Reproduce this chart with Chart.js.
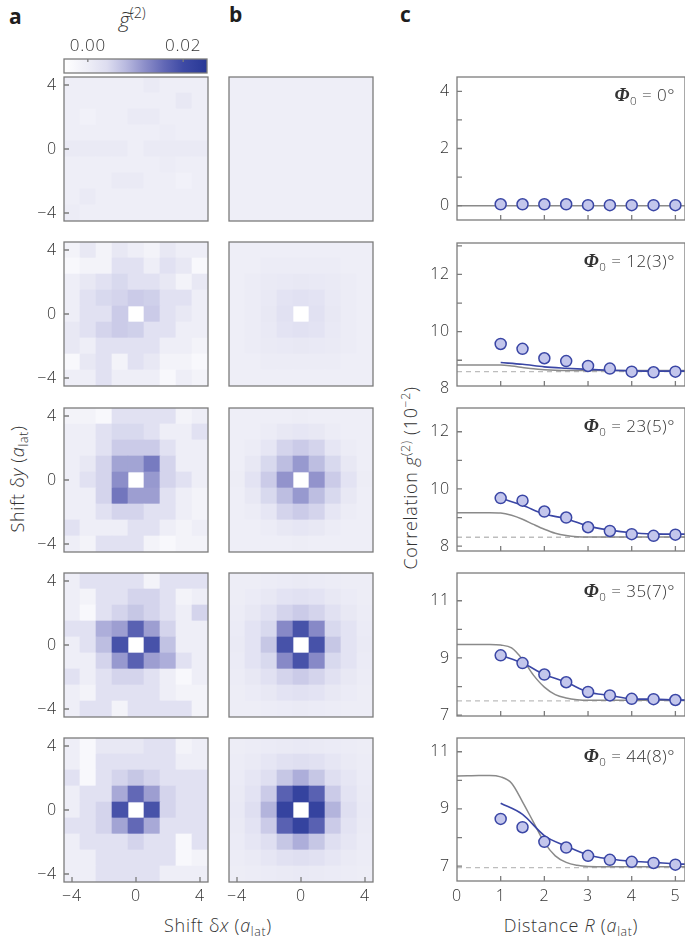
<!DOCTYPE html>
<html>
<head>
<meta charset="utf-8">
<script src="https://cdn.jsdelivr.net/npm/chart.js@4.4.1/dist/chart.umd.min.js"></script>
<style>
  html, body { margin: 0; padding: 0; background: #fff; overflow: hidden; }
  #fig { position: relative; width: 685px; height: 944px; overflow: hidden;
         font-family: 'Open Sans', 'DejaVu Sans', sans-serif; font-weight: 300; color: #333; }
  #fig canvas { position: absolute; }
  .txt { position: absolute; white-space: nowrap; line-height: 1; }
  .panel { font-weight: 700; font-size: 21px; color: #1e1e1e; }
  .title { font-size: 18px; letter-spacing: 0.7px; }
  .cbtitle { font-size: 21px; }
  .tilde { font-size: 20px; transform: scaleX(1.25); transform-origin: left center; }
  .phi { font-size: 17px; right: 10px; transform: translateY(-50%); letter-spacing: 0.5px; }
  .phi b { font-family: 'Liberation Serif', serif; font-size: 19px; font-weight: 700; }
  sub { font-size: 0.68em; vertical-align: -0.35em; line-height: 0; }
  sup { font-size: 0.68em; vertical-align: 0.6em; line-height: 0; }
</style>
</head>
<body>
<div id="fig">
  <div class="txt panel" style="left:9px;top:6px">a</div>
  <div class="txt panel" style="left:229px;top:4px">b</div>
  <div class="txt panel" style="left:400px;top:4px">c</div>
  <div class="txt cbtitle" style="left:119px;top:9px"><i>g</i><sup>(2)</sup></div>
  <div class="txt tilde" style="left:121px;top:3px">~</div>
  <div class="txt title" style="left:17px;top:479px;transform:translate(-50%,-50%) rotate(-90deg)">Shift &delta;<i>y</i> (<i>a</i><sub>lat</sub>)</div>
  <div class="txt title" style="left:218px;top:925px;transform:translate(-50%,-50%)">Shift &delta;<i>x</i> (<i>a</i><sub>lat</sub>)</div>
  <div class="txt title" style="left:410px;top:478px;transform:translate(-50%,-50%) rotate(-90deg)">Correlation <i>g</i><sup>(2)</sup> (10<sup>&minus;2</sup>)</div>
  <div class="txt title" style="left:571px;top:925px;transform:translate(-50%,-50%)">Distance <i>R</i> (<i>a</i><sub>lat</sub>)</div>
</div>
<script>
// ── Data ─────────────────────────────────────────────────────────────────────

const shiftVals = [-4, -3, -2, -1, 0, 1, 2, 3, 4];
const shiftTicks = [-4, 0, 4];
const cbarTicks = [0, 20];          // g~(2) in units of 1e-3

// g~(2) maps in 1e-3, rows from dy = +4 (top) to dy = -4 (bottom), columns dx = -4..4
// null = masked centre site
const heatA1 = [
  [0, 0, 0, 0, 0, 1, 0, 0, 0],
  [0, 0, 0, 0, 0, 0, 0, 1.5, 0],
  [0, -1, 0, 0, 1, 1, 0, 0, 0],
  [0, 0, 0, 0, 0, 0, 0.5, 0, 0],
  [1, 1, 1, 1, 0, 1, 1, 1, 1],
  [0, 0, 0, 0, 0, 0, 0.5, 0, 0],
  [0, 0, 0, 1, 1, 0, 0, -1, 0],
  [0, 1, 0, 0, 0, 0, 0, 0, 0],
  [0.5, 0, 0, 0, 0, 0, 0, 0, 0]
];
const heatB1 = [
  [0, 0, 0, 0, 0, 0, 0, 0, 0],
  [0, 0, 0, 0, 0, 0, 0, 0, 0],
  [0, 0, 0, 0, 0, 0, 0, 0, 0],
  [0, 0, 0, 0, 0, 0, 0, 0, 0],
  [0, 0, 0, 0, 0, 0, 0, 0, 0],
  [0, 0, 0, 0, 0, 0, 0, 0, 0],
  [0, 0, 0, 0, 0, 0, 0, 0, 0],
  [0, 0, 0, 0, 0, 0, 0, 0, 0],
  [0, 0, 0, 0, 0, 0, 0, 0, 0]
];
const heatA2 = [
  [-1.5, 1.5, -1.5, 1.5, 0, -1.5, 1.5, 0, 0],
  [-3, -1.5, -1.5, 3, 3, 0, 3, 1.5, -3],
  [0, 1.5, 3, 4.5, 3, 3, 1.5, -1.5, 1.5],
  [0, 3, 4.5, 5, 6, 5.5, 3, 3, 0],
  [0, 3, 3, 6, null, 6, 3, 1.5, 0],
  [1.5, 3, 5, 6, 5.5, 3, 3, 0, 0],
  [1.5, 0, 3, 3, 3, 3, 0, 0, -1.5],
  [-3, 1.5, 3, -1.5, 3, 1.5, -1.5, -1.5, -3],
  [0, 0, 3, 0, 0, 0, -3, 0, -1.5]
];
const heatB2 = [
  [0, 0, 0, 0, 0, 0, 0, 0, 0],
  [0, 0, 0.5, 0.5, 0.5, 0.5, 0.5, 0, 0],
  [0, 0.5, 1, 1.2, 1.5, 1.2, 1, 0.5, 0],
  [0, 0.5, 1.2, 2.5, 3, 2.5, 1.2, 0.5, 0],
  [0, 0.5, 1.5, 3, null, 3, 1.5, 0.5, 0],
  [0, 0.5, 1.2, 2.5, 3, 2.5, 1.2, 0.5, 0],
  [0, 0.5, 1, 1.2, 1.5, 1.2, 1, 0.5, 0],
  [0, 0, 0.5, 0.5, 0.5, 0.5, 0.5, 0, 0],
  [0, 0, 0, 0, 0, 0, 0, 0, 0]
];
const heatA3 = [
  [-1.5, -1.5, -3, 3, 3, 3, 3, -1.5, 0],
  [0, 0, 3, 4.5, 4.5, 3, 0, 0, 3],
  [0, 0, 3, 6, 6, 6, 3, 0, 0],
  [0, 1.5, 5, 10, 10, 14, 5, 0, 0],
  [0, 3, 5, 12, null, 11, 5, 3, 0],
  [0, 0, 5, 14.5, 10.5, 10.5, 3, 0, -1.5],
  [0, 0, 3, 5, 5, 3, 3, 0, -1.5],
  [3, 0, 0, 0, 3, 3, 0, -1.5, 0],
  [0, -1.5, 3, 3, 3, -1.5, -3, -1.5, -1.5]
];
const heatB3 = [
  [0, 0, 0, 0, 0.3, 0, 0, 0, 0],
  [0, 0, 0.5, 1.5, 2, 1.5, 0.5, 0, 0],
  [0, 0.5, 2, 5, 6, 5, 2, 0.5, 0],
  [0, 1.5, 4.5, 7.5, 11, 7.5, 4.5, 1.5, 0],
  [0.3, 2.5, 6, 11.5, null, 11.5, 6, 2.5, 0.3],
  [0, 1.5, 4.5, 7.5, 11, 7.5, 4.5, 1.5, 0],
  [0, 0.5, 2, 5, 6, 5, 2, 0.5, 0],
  [0, 0, 0.5, 1.5, 2, 1.5, 0.5, 0, 0],
  [0, 0, 0, 0, 0.3, 0, 0, 0, 0]
];
const heatA4 = [
  [0, 3, 3, 3, 3, -1.5, 3, 3, 3],
  [0, -1.5, 3, 3, 5, 5, 3, -1.5, 0],
  [0, -3, 3, 5, 6.5, 5, 3, 0, 5],
  [3, 3, 9, 10.5, 17, 10.5, 5, 0, 0],
  [0, 3, 7.5, 19, null, 19, 7, 0, 0],
  [0, 0, 5, 11, 17, 10.5, 9, 3, 0],
  [3, 0, 3, 5, 5, 3, 0, -3, 0],
  [0, -1.5, 3, 3, 3, 3, 0, -1.5, -1.5],
  [0, 3, 3, -1.5, 3, 3, 3, 3, -1.5]
];
const heatB4 = [
  [0.3, 0.3, 0.5, 0.8, 1, 0.8, 0.5, 0.3, 0.3],
  [0.3, 0.8, 1.5, 2.5, 3, 2.5, 1.5, 0.8, 0.3],
  [0.5, 1.5, 3, 5, 6, 5, 3, 1.5, 0.5],
  [0.8, 2.5, 4.5, 12.5, 19, 12.5, 4.5, 2.5, 0.8],
  [1, 2.5, 6.5, 19, null, 19, 6.5, 2.5, 1],
  [0.8, 2.5, 4.5, 12.5, 19, 12.5, 4.5, 2.5, 0.8],
  [0.5, 1.5, 3, 5, 6, 5, 3, 1.5, 0.5],
  [0.3, 0.8, 1.5, 2.5, 3, 2.5, 1.5, 0.8, 0.3],
  [0.3, 0.3, 0.5, 0.8, 1, 0.8, 0.5, 0.3, 0.3]
];
const heatA5 = [
  [0, -3, 1.5, 1.5, 1.5, 3, 3, -1.5, 0],
  [0, -3, 3, 3, 3, 3, 3, 0, 0],
  [3, -3, 3, 5, 6.5, 5, 3, 3, 3],
  [0, 3, 3, 9.5, 16, 10.5, 5, 3, 3],
  [0, 3, 5, 19, null, 19, 5, 3, 3],
  [3, 3, 5, 10, 16, 9.5, 3, 3, 3],
  [0, 3, 3, 3, 5, 3, 3, -3, 3],
  [0, 0, 3, 3, 3, 3, 3, -3, -1.5],
  [0, 0, 3, 3, 3, 3, 0, 0, 0]
];
const heatB5 = [
  [0.3, 0.5, 0.8, 1, 1.2, 1, 0.8, 0.5, 0.3],
  [0.5, 1, 2, 3, 3.5, 3, 2, 1, 0.5],
  [0.8, 2, 3.5, 6.5, 9, 6.5, 3.5, 2, 0.8],
  [1, 2.5, 6, 17, 22, 17, 6, 2.5, 1],
  [1.2, 3.5, 8.5, 22, null, 22, 8.5, 3.5, 1.2],
  [1, 2.5, 6, 17, 22, 17, 6, 2.5, 1],
  [0.8, 2, 3.5, 6.5, 9, 6.5, 3.5, 2, 0.8],
  [0.5, 1, 2, 3, 3.5, 3, 2, 1, 0.5],
  [0.3, 0.5, 0.8, 1, 1.2, 1, 0.8, 0.5, 0.3]
];

// panel c: measured g(2) (1e-2) vs distance R
const distR = [1, 1.5, 2, 2.5, 3, 3.5, 4, 4.5, 5];
const distTicks = [0, 1, 2, 3, 4, 5];
const g2Phi0 = [0.05, 0.05, 0.05, 0.05, 0.02, 0.02, 0.02, 0.02, 0.02];
const g2Phi12 = [9.57, 9.40, 9.07, 8.97, 8.80, 8.71, 8.60, 8.58, 8.60];
const g2Phi23 = [9.68, 9.59, 9.21, 9.00, 8.66, 8.53, 8.42, 8.36, 8.40];
const g2Phi35 = [9.09, 8.82, 8.42, 8.15, 7.81, 7.69, 7.57, 7.56, 7.53];
const g2Phi44 = [8.65, 8.36, 7.85, 7.65, 7.36, 7.22, 7.15, 7.11, 7.05];

// blue model curves
const modelR = [1, 1.5, 2, 2.5, 3, 3.5, 4, 4.5, 5, 5.5];
const modelPhi12 = [8.92, 8.86, 8.77, 8.72, 8.68, 8.65, 8.63, 8.62, 8.62, 8.62];
const modelPhi23 = [9.68, 9.43, 9.12, 8.96, 8.70, 8.56, 8.47, 8.43, 8.42, 8.42];
const modelPhi35 = [9.09, 8.82, 8.42, 8.15, 7.81, 7.69, 7.57, 7.56, 7.53, 7.52];
const modelPhi44 = [9.20, 8.81, 8.07, 7.70, 7.39, 7.25, 7.17, 7.13, 7.08, 7.06];

// grey reference curves
const refR = [0, 0.25, 0.5, 0.75, 1, 1.25, 1.5, 1.75, 2, 2.25, 2.5, 2.75, 3, 3.5, 4, 4.5, 5, 5.5];
const refPhi0 = [0, 0, 0, 0, 0, 0, 0, 0, 0, 0, 0, 0, 0, 0, 0, 0, 0, 0];
const refPhi12 = [8.83, 8.83, 8.83, 8.83, 8.83, 8.80, 8.75, 8.70, 8.67, 8.65, 8.64, 8.64, 8.64, 8.64, 8.64, 8.64, 8.64, 8.64];
const refPhi23 = [9.17, 9.17, 9.17, 9.17, 9.16, 9.08, 8.94, 8.76, 8.59, 8.45, 8.37, 8.33, 8.32, 8.32, 8.32, 8.32, 8.32, 8.32];
const refPhi35 = [9.47, 9.47, 9.47, 9.47, 9.45, 9.35, 8.95, 8.40, 7.98, 7.72, 7.60, 7.54, 7.52, 7.52, 7.52, 7.52, 7.52, 7.52];
const refPhi44 = [10.15, 10.16, 10.17, 10.17, 10.12, 9.90, 9.25, 8.54, 7.83, 7.36, 7.13, 7.03, 6.99, 6.98, 6.98, 6.98, 6.98, 6.98];

// dashed uncorrelated level
const basePhi12 = 8.60;
const basePhi23 = 8.31;
const basePhi35 = 7.50;
const basePhi44 = 6.95;

const phiLabels = ['0', '12(3)', '23(5)', '35(7)', '44(8)'];

// ── Style / layout ───────────────────────────────────────────────────────────

Chart.defaults.font.family = "'Open Sans', 'DejaVu Sans', sans-serif";
Chart.defaults.font.size = 16;
Chart.defaults.font.weight = '300';
Chart.defaults.color = '#333';
Chart.defaults.animation = false;
Chart.defaults.responsive = false;
Chart.defaults.events = [];
Chart.defaults.plugins.legend.display = false;
Chart.defaults.plugins.tooltip.enabled = false;

const fig = document.getElementById('fig');
const rowTops = [77, 242, 408, 573, 738];
const corrTops = [77, 243, 408, 573, 738];

// colormap (white -> lavender -> dark blue), stops in 1e-3
const cmapVals = [-5, 0, 4, 8, 12, 16, 20, 25];
const cmapColors = [
  [255, 255, 255], [238, 238, 247], [221, 221, 240], [184, 185, 223],
  [140, 142, 201], [98, 104, 182], [62, 74, 165], [40, 56, 150]
];

function cmap(v) {
  if (v <= cmapVals[0]) return rgb(cmapColors[0]);
  for (let i = 1; i < cmapVals.length; i++) {
    if (v <= cmapVals[i]) {
      const t = (v - cmapVals[i - 1]) / (cmapVals[i] - cmapVals[i - 1]);
      const a = cmapColors[i - 1], b = cmapColors[i];
      return rgb(a.map((c, k) => c + (b[k] - c) * t));
    }
  }
  return rgb(cmapColors[cmapColors.length - 1]);
}
function rgb(c) { return `rgb(${c.map(Math.round).join(',')})`; }

const fmt = v => (v < 0 ? '\u2212' + (-v) : String(v));
const asTicks = vals => vals.map(v => ({ value: v }));

// slightly wider tick lettering
const spacingPlugin = {
  id: 'spacing',
  beforeDraw(chart) { chart.ctx.letterSpacing = '0.8px'; }
};

// frame + inward tick marks
const framePlugin = {
  id: 'frame',
  defaults: { color: '#7c7c7c', width: 1.3, len: 5, xTicks: [], yTicks: [], xTicksTop: [] },
  afterDraw(chart, args, opts) {
    const { ctx, chartArea: a, scales } = chart;
    ctx.save();
    ctx.strokeStyle = opts.color;
    ctx.lineWidth = opts.width;
    ctx.strokeRect(a.left, a.top, a.right - a.left, a.bottom - a.top);
    ctx.beginPath();
    const inX = v => v >= scales.x.min && v <= scales.x.max;
    const inY = v => v >= scales.y.min && v <= scales.y.max;
    opts.xTicks.filter(inX).forEach(v => {
      const px = scales.x.getPixelForValue(v);
      ctx.moveTo(px, a.bottom); ctx.lineTo(px, a.bottom - opts.len);
    });
    opts.xTicksTop.filter(inX).forEach(v => {
      const px = scales.x.getPixelForValue(v);
      ctx.moveTo(px, a.top); ctx.lineTo(px, a.top + opts.len);
    });
    opts.yTicks.filter(inY).forEach(v => {
      const py = scales.y.getPixelForValue(v);
      ctx.moveTo(a.left, py); ctx.lineTo(a.left + opts.len, py);
    });
    ctx.stroke();
    ctx.restore();
  }
};

// gradient fill for the colour bar
const cbarPlugin = {
  id: 'cbar',
  beforeDatasetsDraw(chart) {
    const { ctx, chartArea: a, scales } = chart;
    const g = ctx.createLinearGradient(a.left, 0, a.right, 0);
    cmapVals.forEach((v, i) => {
      const p = (scales.x.getPixelForValue(v) - a.left) / (a.right - a.left);
      g.addColorStop(Math.min(1, Math.max(0, p)), rgb(cmapColors[i]));
    });
    ctx.save();
    ctx.fillStyle = g;
    ctx.fillRect(a.left, a.top, a.right - a.left, a.bottom - a.top);
    ctx.restore();
  }
};

function addCanvas(left, top, width, height) {
  const c = document.createElement('canvas');
  c.width = width; c.height = height;
  c.style.left = left + 'px'; c.style.top = top + 'px';
  c.style.width = width + 'px'; c.style.height = height + 'px';
  fig.appendChild(c);
  return c;
}

// ── Colour bar ───────────────────────────────────────────────────────────────

function makeColorbar() {
  const canvas = addCanvas(14, 24, 213, 69);
  return new Chart(canvas, {
    type: 'scatter',
    data: { datasets: [] },
    options: {
      devicePixelRatio: 1,
      layout: { padding: { left: 50, right: 20, top: 5, bottom: 20 } },
      scales: {
        x: {
          type: 'linear', position: 'top', min: -5, max: 25,
          grid: { display: false, drawTicks: false }, border: { display: false },
          afterBuildTicks: s => { s.ticks = asTicks(cbarTicks); },
          afterFit: s => { s.height = 30; },
          ticks: { padding: 3, font: { size: 17 }, callback: v => (v / 1000).toFixed(2) }
        },
        y: { display: false, min: 0, max: 1 }
      },
      plugins: { frame: { xTicksTop: cbarTicks, len: 3 } }
    },
    plugins: [spacingPlugin, cbarPlugin, framePlugin]
  });
}

// ── Heat maps (panels a, b) ──────────────────────────────────────────────────

function makeHeat(areaLeft, top, grid, showY, showX) {
  const h = 20 + 144 + (showX ? 30 : 0) + 20;
  const canvas = addCanvas(areaLeft - 50, top - 20, 214, h);
  const cells = [], colors = [];
  grid.forEach((row, i) => row.forEach((v, j) => {
    if (v === null) return;
    const dy = shiftVals[shiftVals.length - 1 - i];
    cells.push({ x: shiftVals[j], y: [dy - 0.5, dy + 0.5] });
    colors.push(cmap(v));
  }));
  return new Chart(canvas, {
    type: 'bar',
    data: {
      datasets: [{
        data: cells, backgroundColor: colors, borderWidth: 0,
        barPercentage: 1, categoryPercentage: 1
      }]
    },
    options: {
      devicePixelRatio: 1,
      layout: { padding: { left: 0, right: 20, top: 20, bottom: 20 } },
      scales: {
        x: {
          type: 'linear', min: -4.5, max: 4.5, offset: false, display: showX,
          grid: { display: false, drawTicks: false }, border: { display: false },
          afterBuildTicks: s => { s.ticks = asTicks(shiftTicks); },
          afterFit: s => { s.height = showX ? 30 : 0; },
          ticks: { padding: 5, callback: fmt }
        },
        y: {
          type: 'linear', min: -4.5, max: 4.5,
          grid: { display: false, drawTicks: false }, border: { display: false },
          afterBuildTicks: s => { s.ticks = asTicks(shiftTicks); },
          afterFit: s => { s.width = 50; },
          ticks: { display: showY, padding: 7, callback: fmt }
        }
      },
      plugins: { frame: { xTicks: showX ? shiftTicks : [], yTicks: showY ? shiftTicks : [] } }
    },
    plugins: [spacingPlugin, framePlugin]
  });
}

// ── Correlation vs distance (panel c) ────────────────────────────────────────

function makeCorr(top, cfg, showX) {
  const h = 20 + 143 + (showX ? 30 : 0) + 20;
  const canvas = addCanvas(407, top - 20, 298, h);
  const xy = (xs, ys) => xs.map((x, i) => ({ x: x, y: ys[i] }));
  const datasets = [{
    data: xy(distR, cfg.g2), showLine: false, order: 0,
    pointRadius: 5.5, pointBackgroundColor: '#c3c6ec',
    pointBorderColor: '#3a46a5', pointBorderWidth: 1.5
  }];
  if (cfg.model) datasets.push({
    data: xy(modelR, cfg.model), showLine: true, order: 1, pointRadius: 0,
    borderColor: '#3a46a5', borderWidth: 1.6, cubicInterpolationMode: 'monotone'
  });
  datasets.push({
    data: xy(refR, cfg.ref), showLine: true, order: 2, pointRadius: 0,
    borderColor: '#8a8a8a', borderWidth: 1.5, cubicInterpolationMode: 'monotone'
  });
  if (cfg.base != null) datasets.push({
    data: [{ x: 0, y: cfg.base }, { x: 5.5, y: cfg.base }], showLine: true, order: 3,
    pointRadius: 0, borderColor: '#bdbdbd', borderWidth: 1.3, borderDash: [5, 4]
  });

  new Chart(canvas, {
    type: 'scatter',
    data: { datasets: datasets },
    options: {
      devicePixelRatio: 1,
      layout: { padding: { left: 0, right: 20, top: 20, bottom: 20 } },
      scales: {
        x: {
          type: 'linear', min: 0, max: 5.22, display: showX,
          grid: { display: false, drawTicks: false }, border: { display: false },
          afterBuildTicks: s => { s.ticks = asTicks(distTicks); },
          afterFit: s => { s.height = showX ? 30 : 0; },
          ticks: { padding: 6 }
        },
        y: {
          type: 'linear', min: cfg.min, max: cfg.max,
          grid: { display: false, drawTicks: false }, border: { display: false },
          afterBuildTicks: s => { s.ticks = asTicks(cfg.ticks); },
          afterFit: s => { s.width = 50; },
          ticks: { padding: 7 }
        }
      },
      plugins: { frame: { xTicks: distTicks.slice(1), yTicks: cfg.ticks.concat(cfg.minor) } }
    },
    plugins: [spacingPlugin, framePlugin]
  });
}

// ── Build ────────────────────────────────────────────────────────────────────

makeColorbar();

const heatA = [heatA1, heatA2, heatA3, heatA4, heatA5];
const heatB = [heatB1, heatB2, heatB3, heatB4, heatB5];
heatA.forEach((g, i) => makeHeat(64, rowTops[i], g, true, i === 4));
heatB.forEach((g, i) => makeHeat(229, rowTops[i], g, false, i === 4));

const corrRows = [
  { g2: g2Phi0, model: null, ref: refPhi0, base: null, min: -0.5, max: 4.5, ticks: [0, 2, 4], minor: [1, 3] },
  { g2: g2Phi12, model: modelPhi12, ref: refPhi12, base: basePhi12, min: 8.1, max: 13.1, ticks: [8, 10, 12], minor: [9, 11, 13] },
  { g2: g2Phi23, model: modelPhi23, ref: refPhi23, base: basePhi23, min: 7.83, max: 12.83, ticks: [8, 10, 12], minor: [9, 11] },
  { g2: g2Phi35, model: modelPhi35, ref: refPhi35, base: basePhi35, min: 6.97, max: 11.97, ticks: [7, 9, 11], minor: [8, 10] },
  { g2: g2Phi44, model: modelPhi44, ref: refPhi44, base: basePhi44, min: 6.48, max: 11.48, ticks: [7, 9, 11], minor: [8, 10] }
];
corrRows.forEach((cfg, i) => {
  makeCorr(corrTops[i], cfg, i === 4);
  const d = document.createElement('div');
  d.className = 'txt phi';
  d.style.top = (corrTops[i] + 17) + 'px';
  d.innerHTML = '<b><i>\u03A6</i></b><sub>0</sub> = ' + phiLabels[i] + '\u00B0';
  fig.appendChild(d);
});
</script>
</body>
</html>
